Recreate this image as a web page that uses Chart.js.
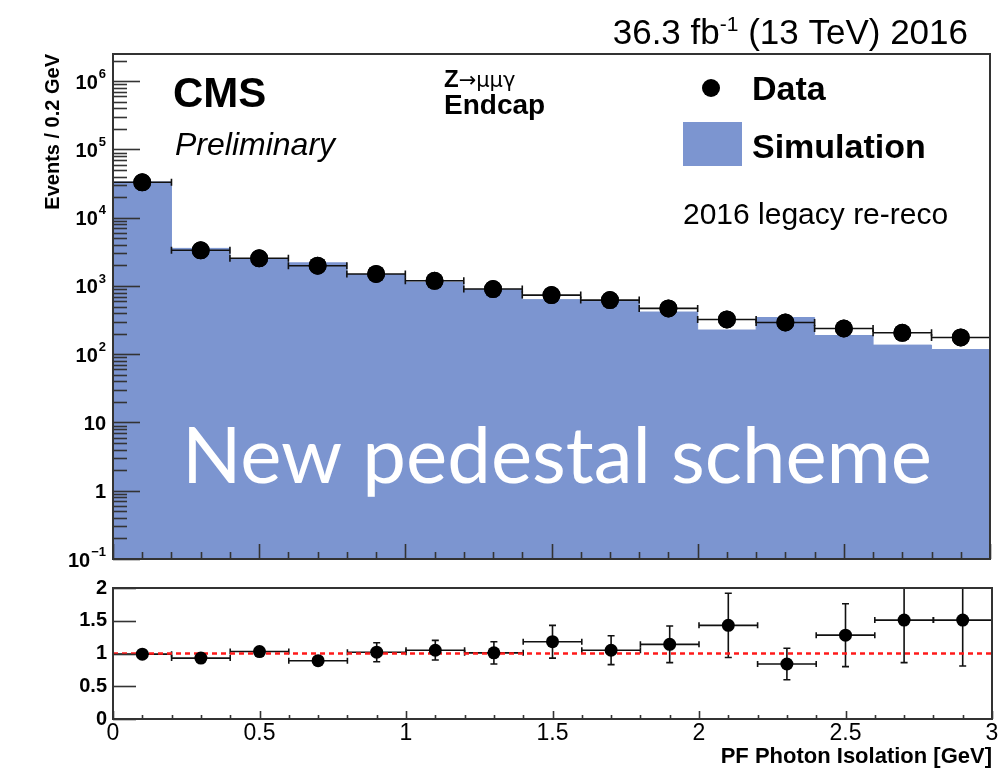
<!DOCTYPE html>
<html>
<head>
<meta charset="utf-8">
<script src="https://cdn.jsdelivr.net/npm/chart.js@4/dist/chart.umd.min.js"></script>
<style>
  html, body { margin: 0; padding: 0; background: #fff; }
  #wrap { position: relative; width: 999px; height: 771px; overflow: hidden; }
  canvas { position: absolute; left: 0; }
  #main { top: 0; }
  #ratio { top: 575px; }
</style>
</head>
<body>
<div id="wrap">
  <canvas id="main" width="999" height="575"></canvas>
  <canvas id="ratio" width="999" height="196"></canvas>
</div>
<script>
// ---- histogram content: PF photon isolation, Z -> mu mu gamma, endcap ----
const binEdges    = [0, 0.2, 0.4, 0.6, 0.8, 1.0, 1.2, 1.4, 1.6, 1.8, 2.0, 2.2, 2.4, 2.6, 2.8, 3.0];
const binCenters  = [0.1, 0.3, 0.5, 0.7, 0.9, 1.1, 1.3, 1.5, 1.7, 1.9, 2.1, 2.3, 2.5, 2.7, 2.9];
const dataEvents  = [33000, 3330, 2540, 1980, 1500, 1190, 900, 735, 620, 469, 323, 292, 238, 206, 176];
const simEvents   = [33300, 3550, 2480, 2180, 1470, 1140, 890, 630, 595, 415, 226, 345, 188, 136, 117];
const ratioValues = [0.99, 0.93, 1.03, 0.89, 1.02, 1.05, 1.01, 1.18, 1.05, 1.14, 1.43, 0.84, 1.28, 1.51, 1.51];
const ratioErrors = [0.02, 0.03, 0.07, 0.05, 0.145, 0.15, 0.17, 0.25, 0.22, 0.28, 0.49, 0.24, 0.48, 0.65, 0.70];

// ---- axis ticks ----
const logTicks    = [0.1, 1, 10, 100, 1000, 1e4, 1e5, 1e6];
const logLabels   = [['10', '\u22121'], ['1', ''], ['10', ''], ['10', '2'], ['10', '3'], ['10', '4'], ['10', '5'], ['10', '6']];
const ratioTicks  = [0, 0.5, 1, 1.5, 2];
const xTicks      = [0, 0.5, 1, 1.5, 2, 2.5, 3];
const xMinorStep  = 0.1;

const FONT = '"Liberation Sans", Arial, Helvetica, sans-serif';
const SIM_BLUE = '#7c95d0';
const AXIS_COL = '#333333';

function setFont(ctx, style, size) { ctx.font = style + ' ' + size + 'px ' + FONT; }

// Frame around the plotting area
function drawFrame(ctx, area) {
  ctx.save();
  ctx.strokeStyle = AXIS_COL;
  ctx.lineWidth = 2;
  ctx.strokeRect(area.left, area.top, area.right - area.left, area.bottom - area.top);
  ctx.restore();
}

// Inward x ticks along the bottom edge
function drawXTicks(ctx, xs, area, minorLen, majorLen) {
  ctx.save();
  ctx.strokeStyle = AXIS_COL;
  ctx.lineWidth = 1.6;
  const n = Math.round((xs.max - xs.min) / xMinorStep);
  for (let i = 0; i <= n; i++) {
    const v = xs.min + i * xMinorStep;
    const major = xTicks.some(t => Math.abs(t - v) < 1e-6);
    const px = Math.round(xs.getPixelForValue(v)) + 0.5;
    ctx.beginPath();
    ctx.moveTo(px, area.bottom);
    ctx.lineTo(px, area.bottom - (major ? majorLen : minorLen));
    ctx.stroke();
  }
  ctx.restore();
}

// Horizontal bin-width bars with end caps
function drawBinBars(ctx, xs, ys, values, capHalf) {
  ctx.save();
  ctx.strokeStyle = '#111';
  ctx.lineWidth = 1.6;
  values.forEach((v, i) => {
    const y = ys.getPixelForValue(v);
    const x0 = xs.getPixelForValue(binEdges[i]);
    const x1 = xs.getPixelForValue(binEdges[i + 1]);
    ctx.beginPath();
    ctx.moveTo(x0, y); ctx.lineTo(x1, y);
    ctx.moveTo(x0, y - capHalf); ctx.lineTo(x0, y + capHalf);
    ctx.moveTo(x1, y - capHalf); ctx.lineTo(x1, y + capHalf);
    ctx.stroke();
  });
  ctx.restore();
}

// ---------------- upper panel ----------------
const mainDecor = {
  id: 'mainDecor',
  afterDatasetsDraw(chart) {
    const {ctx, chartArea: area, scales: {x: xs, y: ys}} = chart;
    ctx.save();
    ctx.beginPath();
    ctx.rect(area.left, area.top, area.right - area.left, area.bottom - area.top);
    ctx.clip();
    drawBinBars(ctx, xs, ys, dataEvents, 3.5);
    // re-draw markers on top of the bars
    const meta = chart.getDatasetMeta(1);
    meta.data.forEach(p => {
      ctx.beginPath();
      ctx.fillStyle = '#000';
      ctx.arc(p.x, p.y, 9, 0, Math.PI * 2);
      ctx.fill();
    });
    // caption over the histogram
    const caption = 'New pedestal scheme';
    ctx.font = '100px Lato, "Open Sans", sans-serif';
    const w100 = ctx.measureText(caption).width;
    const size = 100 * 750 / w100;
    ctx.font = size.toFixed(2) + 'px Lato, "Open Sans", sans-serif';
    ctx.fillStyle = '#ffffff';
    ctx.textBaseline = 'alphabetic';
    ctx.textAlign = 'left';
    ctx.fillText(caption, 182, 483);
    ctx.restore();
  },
  afterDraw(chart) {
    const {ctx, chartArea: area, scales: {x: xs, y: ys}} = chart;
    drawFrame(ctx, area);
    drawXTicks(ctx, xs, area, 7, 15);

    // log y ticks (decades + 2..9 minor)
    ctx.save();
    ctx.strokeStyle = AXIS_COL;
    ctx.lineWidth = 1.6;
    logTicks.forEach(d => {
      let py = Math.round(ys.getPixelForValue(d)) + 0.5;
      ctx.beginPath(); ctx.moveTo(area.left, py); ctx.lineTo(area.left + 27, py); ctx.stroke();
      for (let k = 2; k <= 9; k++) {
        const v = k * d;
        if (v > ys.max) break;
        py = Math.round(ys.getPixelForValue(v)) + 0.5;
        ctx.beginPath(); ctx.moveTo(area.left, py); ctx.lineTo(area.left + 14, py); ctx.stroke();
      }
    });
    ctx.restore();

    // y tick labels with exponents
    ctx.save();
    ctx.fillStyle = '#000';
    ctx.textBaseline = 'middle';
    ctx.textAlign = 'left';
    const rightEdge = area.left - 7;
    logTicks.forEach((v, i) => {
      const [base, exp] = logLabels[i];
      const py = ys.getPixelForValue(v);
      setFont(ctx, 'bold', 20);
      const bw = ctx.measureText(base).width;
      setFont(ctx, 'bold', 13);
      const ew = exp ? ctx.measureText(exp).width + 1 : 0;
      const x0 = rightEdge - bw - ew;
      setFont(ctx, 'bold', 20);
      ctx.fillText(base, x0, py + 2);
      if (exp) {
        setFont(ctx, 'bold', 13);
        ctx.fillText(exp, x0 + bw + 1, py - 7);
      }
    });
    ctx.restore();

    // header and annotations
    ctx.save();
    ctx.fillStyle = '#000';
    ctx.textBaseline = 'alphabetic';
    ctx.textAlign = 'left';

    // luminosity label, right aligned
    setFont(ctx, 'normal', 35);
    const partA = '36.3 fb', partC = ' (13 TeV) 2016';
    const wA = ctx.measureText(partA).width, wC = ctx.measureText(partC).width;
    setFont(ctx, 'normal', 21);
    const partB = '-1';
    const wB = ctx.measureText(partB).width;
    let lx = 968 - (wA + wB + wC);
    setFont(ctx, 'normal', 35);
    ctx.fillText(partA, lx, 44);
    setFont(ctx, 'normal', 21);
    ctx.fillText(partB, lx + wA, 31);
    setFont(ctx, 'normal', 35);
    ctx.fillText(partC, lx + wA + wB, 44);

    setFont(ctx, 'bold', 42);
    ctx.fillText('CMS', 173, 107);
    setFont(ctx, 'italic', 32);
    ctx.fillText('Preliminary', 175, 155);

    setFont(ctx, 'bold', 24);
    ctx.fillText('Z', 444, 87);
    const zw = ctx.measureText('Z').width;
    ctx.font = 'normal 21px "DejaVu Sans", ' + FONT;
    ctx.fillText('\u2192\u03bc\u03bc\u03b3', 444 + zw, 87);
    setFont(ctx, 'bold', 28);
    ctx.fillText('Endcap', 444, 114);

    // legend
    ctx.beginPath();
    ctx.arc(711, 88, 9, 0, Math.PI * 2);
    ctx.fill();
    setFont(ctx, 'bold', 34);
    ctx.fillText('Data', 752, 100);
    ctx.fillStyle = SIM_BLUE;
    ctx.fillRect(683, 122, 59, 44);
    ctx.fillStyle = '#000';
    ctx.fillText('Simulation', 752, 158);
    setFont(ctx, 'normal', 30);
    ctx.fillText('2016 legacy re-reco', 683, 224);
    ctx.restore();
  }
};

const simStep = binEdges.map((e, i) => ({x: e, y: simEvents[Math.min(i, simEvents.length - 1)]}));
const dataPoints = binCenters.map((c, i) => ({x: c, y: dataEvents[i]}));

new Chart(document.getElementById('main'), {
  type: 'scatter',
  data: {
    datasets: [
      {
        label: 'Simulation', type: 'line', data: simStep, stepped: 'before',
        fill: 'start', backgroundColor: SIM_BLUE, borderColor: SIM_BLUE,
        borderWidth: 1, pointRadius: 0, order: 2
      },
      {
        label: 'Data', data: dataPoints, pointRadius: 9,
        pointBackgroundColor: '#000', pointBorderColor: '#000', pointBorderWidth: 0, order: 1
      }
    ]
  },
  options: {
    responsive: false, animation: false, devicePixelRatio: 1,
    layout: {padding: {left: 0, right: 7, top: 54, bottom: 16}},
    plugins: {legend: {display: false}, tooltip: {enabled: false}},
    scales: {
      x: {type: 'linear', min: 0, max: 3, display: false},
      y: {
        type: 'logarithmic', min: 0.1, max: 2.5e6,
        grid: {display: false, drawTicks: false}, border: {display: false},
        ticks: {display: false},
        title: {
          display: true, text: 'Events / 0.2 GeV', align: 'end', color: '#000',
          font: {family: FONT, size: 20, weight: 'bold'}, padding: {top: 41, bottom: 0}
        },
        afterFit(s) { s.width = 113; s.paddingTop = 0; s.paddingBottom = 0; }
      }
    }
  },
  plugins: [mainDecor]
});

// ---------------- ratio panel ----------------
const ratioDecor = {
  id: 'ratioDecor',
  beforeDatasetsDraw(chart) {
    const {ctx, chartArea: area, scales: {x: xs, y: ys}} = chart;
    ctx.save();
    ctx.beginPath();
    ctx.rect(area.left, area.top, area.right - area.left, area.bottom - area.top);
    ctx.clip();
    drawBinBars(ctx, xs, ys, ratioValues, 3);
    ctx.strokeStyle = '#111';
    ctx.lineWidth = 1.6;
    ratioValues.forEach((r, i) => {
      const px = xs.getPixelForValue(binCenters[i]);
      const yHi = ys.getPixelForValue(r + ratioErrors[i]);
      const yLo = ys.getPixelForValue(r - ratioErrors[i]);
      ctx.beginPath();
      ctx.moveTo(px, yHi); ctx.lineTo(px, yLo);
      ctx.moveTo(px - 3.5, yHi); ctx.lineTo(px + 3.5, yHi);
      ctx.moveTo(px - 3.5, yLo); ctx.lineTo(px + 3.5, yLo);
      ctx.stroke();
    });
    ctx.restore();
  },
  afterDraw(chart) {
    const {ctx, chartArea: area, scales: {x: xs, y: ys}} = chart;
    drawFrame(ctx, area);
    drawXTicks(ctx, xs, area, 4, 8);
    ctx.save();
    ctx.strokeStyle = AXIS_COL;
    ctx.lineWidth = 1.6;
    ratioTicks.forEach(v => {
      const py = Math.round(ys.getPixelForValue(v)) + 0.5;
      ctx.beginPath(); ctx.moveTo(area.left, py); ctx.lineTo(area.left + 23, py); ctx.stroke();
    });
    ctx.restore();

    // "Data / MC" fraction title, rotated
    ctx.save();
    ctx.translate(44, 607);
    ctx.rotate(-Math.PI / 2);
    ctx.fillStyle = '#000';
    ctx.textAlign = 'center';
    ctx.textBaseline = 'alphabetic';
    setFont(ctx, 'bold', 18);
    ctx.fillText('Data', 0, -4);
    ctx.fillText('MC', 0, 16);
    ctx.fillRect(-20, -2, 40, 2);
    ctx.restore();
  }
};

const ratioPoints = binCenters.map((c, i) => ({x: c, y: ratioValues[i]}));

new Chart(document.getElementById('ratio'), {
  type: 'scatter',
  data: {
    datasets: [
      {
        label: 'unity', type: 'line', data: [{x: 0, y: 1}, {x: 3, y: 1}],
        borderColor: '#ff1a1a', borderWidth: 2.5, borderDash: [5, 4],
        pointRadius: 0, fill: false, order: 2
      },
      {
        label: 'Data/MC', data: ratioPoints, pointRadius: 6.5,
        pointBackgroundColor: '#000', pointBorderColor: '#000', pointBorderWidth: 0, order: 1
      }
    ]
  },
  options: {
    responsive: false, animation: false, devicePixelRatio: 1,
    layout: {padding: {left: 0, right: 7, top: 13, bottom: 0}},
    plugins: {legend: {display: false}, tooltip: {enabled: false}},
    scales: {
      x: {
        type: 'linear', min: 0, max: 3,
        afterBuildTicks(s) { s.ticks = xTicks.map(v => ({value: v})); },
        grid: {display: false, drawTicks: false}, border: {display: false},
        ticks: {
          font: {family: FONT, size: 23}, color: '#000', padding: 1,
          maxRotation: 0, autoSkip: false, callback: v => String(v)
        },
        title: {
          display: true, text: 'PF Photon Isolation [GeV]', align: 'end', color: '#000',
          font: {family: FONT, size: 22, weight: 'bold'}, padding: {top: 0, bottom: 1}
        },
        afterFit(s) { s.height = 52; s.paddingLeft = 0; s.paddingRight = 0; }
      },
      y: {
        min: 0, max: 2,
        afterBuildTicks(s) { s.ticks = ratioTicks.map(v => ({value: v})); },
        grid: {display: false, drawTicks: false}, border: {display: false},
        ticks: {
          font: {family: FONT, size: 20, weight: 'bold'}, color: '#000', padding: 6,
          callback: v => String(v)
        },
        afterFit(s) { s.width = 113; s.paddingTop = 0; s.paddingBottom = 0; }
      }
    }
  },
  plugins: [ratioDecor]
});
</script>
</body>
</html>
